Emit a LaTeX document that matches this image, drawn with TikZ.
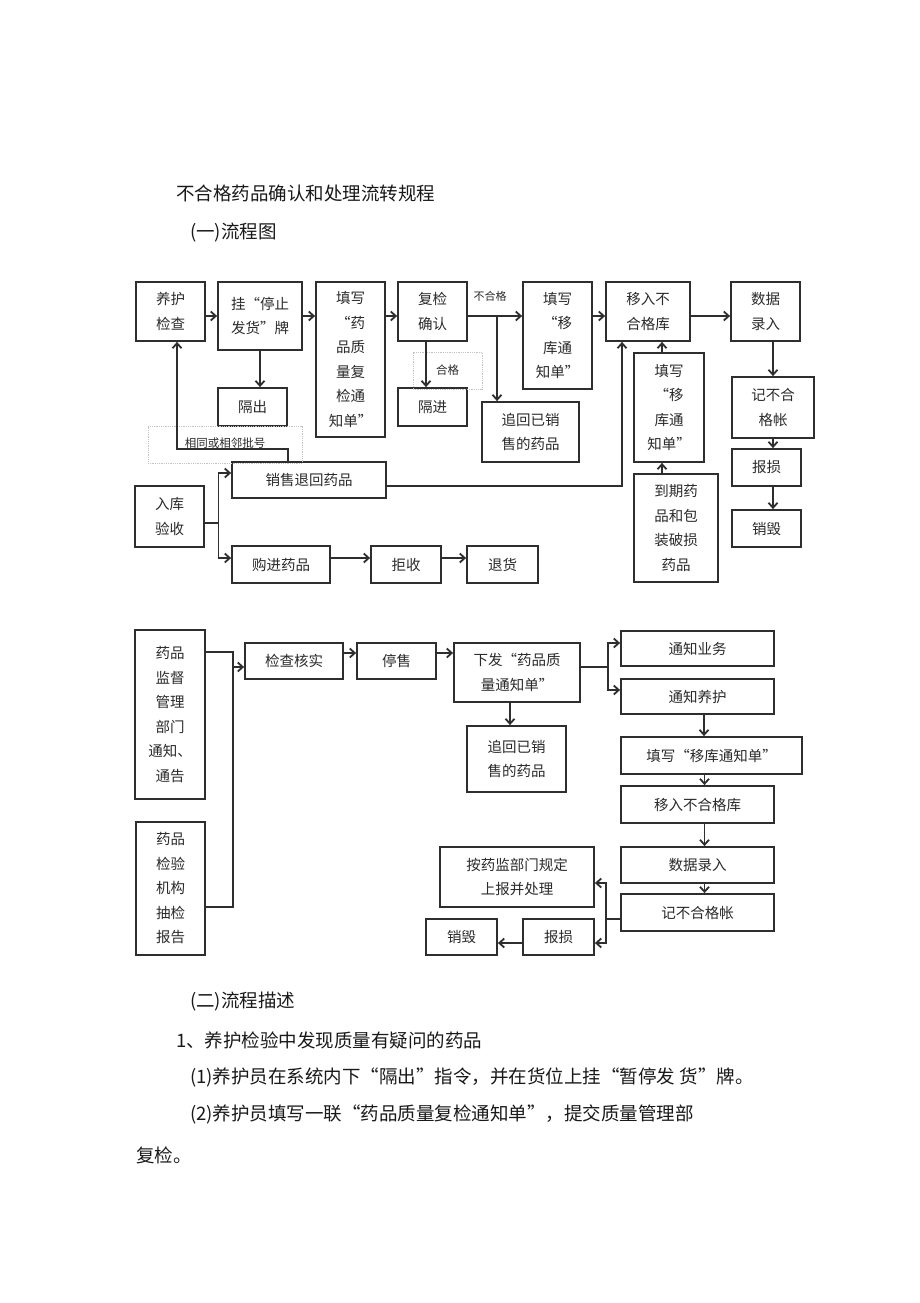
\documentclass[tikz,border=0pt]{standalone}
\usepackage{fontspec}
\setmainfont{Noto Sans CJK SC}
\usepackage{xcolor}
\usepackage{tikz}
\usetikzlibrary{arrows.meta,calc}
\definecolor{lnline}{HTML}{2E2E2E}
\definecolor{lntext}{HTML}{2A2A2A}
\definecolor{lndot}{HTML}{C4C4C4}

\begin{document}
\begin{tikzpicture}[x=1pt, y=-1pt,
  box/.style={draw=lnline, line width=1.8pt, inner sep=0pt, align=center,
    text=lntext, font=\fontsize{14.5}{24.5}\selectfont},
  sz/.style 2 args={minimum width=#1pt, minimum height=#2pt},
  tagbox/.style={draw=lndot, densely dotted, line width=0.8pt, inner sep=0pt,
    text=lntext, font=\fontsize{11.5}{14}\selectfont},
  arr/.style={draw=lnline, line width=1.8pt, -{Straight Barb[length=5pt, width=9pt]}},
  lnk/.style={draw=lnline, line width=1.8pt},
  bodytext/.style={anchor=west, inner sep=0pt, text=black!90, font=\fontsize{18.5}{22}\selectfont}]

  % Page
  \fill[white] (0,0) rectangle (920,1303);
  \useasboundingbox (0,0) rectangle (920,1303);

  % Headings
  \node[bodytext] (title) at (176,193) {不合格药品确认和处理流转规程};
  \node[bodytext] (sec1) at (190,233) {(一)流程图};

  % Upper chart: boxes
  \node[box, sz={69}{59}] (yh) at (170.5,311.5) {养护\\检查};
  \node[box, sz={84}{68}] (gp) at (260,316) {挂“停止\\发货”牌};
  \node[box, sz={69}{155}] (fx) at (350.5,359.5) {填写\\“药\\品质\\量复\\检通\\知单”};
  \node[box, sz={69}{59}] (fj) at (432.5,311.5) {复检\\确认};
  \node[box, sz={69}{107}] (yk1) at (557.5,335.5) {填写\\“移\\库通\\知单”};
  \node[box, sz={84}{59}] (yr) at (648,311.5) {移入不\\合格库};
  \node[box, sz={69}{59}] (sj) at (765.5,311.5) {数据\\录入};
  \node[box, sz={69}{38}] (gc) at (252.5,407) {隔出};
  \node[box, sz={69}{38}] (gj) at (432.5,407) {隔进};
  \node[box, sz={97}{60}] (zh1) at (530.5,432) {追回已销\\售的药品};
  \node[box, sz={70}{109}] (yk2) at (669,407.5) {填写\\“移\\库通\\知单”};
  \node[box, sz={82}{61}] (jb) at (773,407.5) {记不合\\格帐};
  \node[box, sz={69}{37}] (bs) at (766.5,467.5) {报损};
  \node[box, sz={69}{37}] (xh) at (766.5,528.5) {销毁};
  \node[box, sz={84}{108}] (dq) at (676,528) {到期药\\品和包\\装破损\\药品};
  \node[box, sz={154}{36}] (xt) at (309,480) {销售退回药品};
  \node[box, sz={69}{61}] (rk) at (169.5,516.5) {入库\\验收};
  \node[box, sz={98}{37}] (gj2) at (281,564.5) {购进药品};
  \node[box, sz={70}{37}] (js) at (406,564.5) {拒收};
  \node[box, sz={71}{37}] (th) at (502.5,564.5) {退货};

  % Upper chart: dotted labels
  \node[tagbox, sz={69}{37}] (hg) at (447.5,370.5) {\raisebox{2pt}{合格}};
  \node[tagbox, sz={154}{37}] (xl) at (225,444.5) {\raisebox{4pt}{相同或相邻批号}\hspace{6pt}};
  \node[text=lntext, inner sep=0pt, font=\fontsize{11}{13}\selectfont] (bhg) at (490,296) {不合格};

  % Upper chart: connectors
  \draw[arr] (yh.east |- gp) -- (gp);
  \draw[arr] (gp) -- (fx.west |- gp);
  \draw[arr] (fx.east |- gp) -- (fj.west |- gp);
  \draw[arr] (fj.east |- gp) -- (yk1.west |- gp);
  \draw[arr] (yk1.east |- gp) -- (yr.west |- gp);
  \draw[arr] (yr.east |- gp) -- (sj.west |- gp);
  \draw[arr] (gp.south) -- (gp.south |- gc.north);
  \draw[arr] ($(fj.south)+(-6.5,0)$) -- ($(fj.south |- gj.north)+(-6.5,0)$);
  \coordinate (fb) at (497,316);
  \draw[arr] (fb) -- (fb |- zh1.north);
  \draw[arr] (sj.south -| jb) -- (jb.north);
  \draw[arr] (jb.south) -- (jb.south |- bs.north);
  \draw[arr] (jb |- bs.south) -- (jb |- xh.north);
  \draw[arr] ($(yk2.north)+(-7,0)$) -- ($(yk2.north |- yr.south)+(-7,0)$);
  \draw[arr] ($(dq.north)+(-14,0)$) -- ($(yk2.south)+(-7,0)$);
  \draw[arr] ($(xt.east)+(0,6)$) -| ($(yr.south)+(-26,0)$);
  \draw[arr] ($(xt.north)+(-21,0)$) -- ($(xt.north)+(-21,-12)$) -| ($(yh.south)+(6.5,0)$);
  \draw[lnk] ($(rk.east)+(0,6.5)$) -- ++(13.5,0) coordinate (rb);
  \draw[arr] (rb) |- ($(xt.west)+(0,-7)$);
  \draw[arr] (rb) |- ($(gj2.west)+(0,-6.5)$);
  \draw[arr] ($(gj2.east)+(0,-6.5)$) -- ($(js.west)+(0,-6.5)$);
  \draw[arr] ($(js.east)+(0,-6.5)$) -- ($(th.west)+(0,-6.5)$);

  % Lower chart: boxes
  \node[box, sz={70}{169}] (jd) at (170,714.5) {药品\\监督\\管理\\部门\\通知、\\通告};
  \node[box, sz={69}{133}] (jy) at (170.5,888.5) {药品\\检验\\机构\\抽检\\报告};
  \node[box, sz={98}{36}] (jc) at (294,661) {检查核实};
  \node[box, sz={79}{36}] (ts) at (396.5,661) {停售};
  \node[box, sz={126}{59}] (xf) at (517,672.5) {下发“药品质\\量通知单”};
  \node[box, sz={153}{35}] (tz1) at (697.5,648.5) {通知业务};
  \node[box, sz={153}{35}] (tz2) at (697.5,696.5) {通知养护};
  \node[box, sz={99}{66}] (zh2) at (516.5,759) {追回已销\\售的药品};
  \node[box, sz={181}{37}] (txk) at (711.5,755.5) {填写“移库通知单”};
  \node[box, sz={153}{37}] (yr2) at (697.5,804.5) {移入不合格库};
  \node[box, sz={153}{36}] (sj2) at (697.5,865) {数据录入};
  \node[box, sz={153}{37}] (jb2) at (697.5,912.5) {记不合格帐};
  \node[box, sz={154}{60}] (ab) at (517,877) {按药监部门规定\\上报并处理};
  \node[box, sz={71}{36}] (bs2) at (558.5,937) {报损};
  \node[box, sz={71}{36}] (xh2) at (461.5,937) {销毁};

  % Lower chart: connectors
  \draw[lnk] ($(jd.north east)+(0,23)$) -- ++(27,0) coordinate (jb0) |- ($(jy.east)+(0,18.5)$);
  \draw[arr] ($(jb0 |- jc.west)+(0,6)$) -- ($(jc.west)+(0,6)$);
  \draw[arr] ($(jc.east)+(0,-8)$) -- ($(ts.west)+(0,-8)$);
  \draw[arr] ($(ts.east)+(0,-8)$) -- ($(ts.east -| xf.west)+(0,-8)$);
  \draw[lnk] ($(xf.east)+(0,-5.5)$) -- ++(27,0) coordinate (xb);
  \draw[arr] (xb) |- ($(tz1.west)+(0,-5.5)$);
  \draw[arr] (xb) |- ($(tz2.west)+(0,-6.5)$);
  \draw[arr] ($(xf.south)+(-7,0)$) -- ($(xf.south |- zh2.north)+(-7,0)$);
  \draw[arr] ($(tz2.south)+(6.5,0)$) -- ($(tz2.south |- txk.north)+(6.5,0)$);
  \draw[arr] ($(txk.south)+(-7,0)$) -- ($(txk.south |- yr2.north)+(-7,0)$);
  \draw[arr] ($(yr2.south)+(7,0)$) -- ($(yr2.south |- sj2.north)+(7,0)$);
  \draw[arr] ($(sj2.south)+(7,0)$) -- ($(sj2.south |- jb2.north)+(7,0)$);
  \draw[lnk] ($(jb2.west)+(0,6.5)$) -- ++(-14,0) coordinate (kb);
  \draw[arr] (kb) |- ($(ab.east)+(0,6)$);
  \draw[arr] (kb) |- ($(bs2.east)+(0,6)$);
  \draw[arr] ($(bs2.west)+(0,6)$) -- ($(xh2.east)+(0,6)$);

  % Description
  \node[bodytext] (sec2) at (190,1002) {(二)流程描述};
  \node[bodytext] (p1) at (176,1040) {1、养护检验中发现质量有疑问的药品};
  \node[bodytext] (p2) at (190,1077) {(1)养护员在系统内下“隔出”指令，并在货位上挂“暂停发 货”牌。};
  \node[bodytext] (p3) at (190,1114) {(2)养护员填写一联“药品质量复检通知单”，提交质量管理部};
  \node[bodytext] (p4) at (136,1155) {复检。};
\end{tikzpicture}
\end{document}
